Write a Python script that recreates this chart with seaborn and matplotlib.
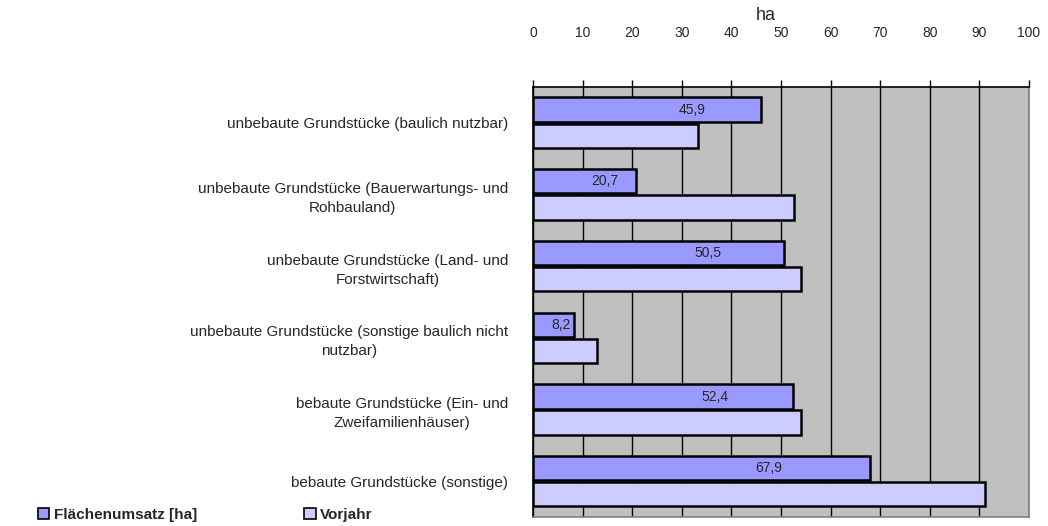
import numpy as np
import pandas as pd
import seaborn as sns
from matplotlib import pyplot as plt
from matplotlib.patches import Patch

# Kategorien (von oben nach unten) und Werte in ha
categories = [
    "unbebaute Grundstücke (baulich nutzbar)",
    "unbebaute Grundstücke (Bauerwartungs- und\nRohbauland)",
    "unbebaute Grundstücke (Land- und\nForstwirtschaft)",
    "unbebaute Grundstücke (sonstige baulich nicht\nnutzbar)",
    "bebaute Grundstücke (Ein- und\nZweifamilienhäuser)",
    "bebaute Grundstücke (sonstige)",
]
flaechenumsatz = [45.9, 20.7, 50.5, 8.2, 52.4, 67.9]
vorjahr = [33.2, 52.6, 54.0, 12.9, 54.1, 91.1]
series_names = ["Flächenumsatz [ha]", "Vorjahr"]
x_ticks = list(range(0, 101, 10))

colors = ["#9999FF", "#CCCCFF"]

df = pd.DataFrame({
    "Kategorie": categories * 2,
    "Serie": [series_names[0]] * len(categories) + [series_names[1]] * len(categories),
    "ha": flaechenumsatz + vorjahr,
})

sns.set_style("white")
plt.rcParams["font.family"] = ["Liberation Sans", "DejaVu Sans"]

fig = plt.figure(figsize=(10.48, 5.26), dpi=100)
ax = fig.add_axes([0.5086, 0.017, 0.4733, 0.818])
ax.set_facecolor("#C0C0C0")

sns.barplot(data=df, y="Kategorie", x="ha", hue="Serie", order=categories,
            hue_order=series_names, palette=colors, saturation=1, width=0.73,
            gap=0.07, edgecolor="black", linewidth=1.8, legend=False, ax=ax,
            zorder=3)

# Beschriftung der Werte (nur erste Serie)
for i, v in enumerate(flaechenumsatz):
    ax.text(v * 0.7, i - 0.18, f"{v:.1f}".replace(".", ","), ha="center",
            va="center", fontsize=10, zorder=4)

ax.set_xlim(0, 100)
ax.set_ylim(len(categories) - 0.5, -0.5)

# x-Achse oben
ax.xaxis.set_ticks_position("top")
ax.xaxis.set_label_position("top")
ax.set_xticks(x_ticks)
ax.set_xticklabels([str(t) for t in x_ticks], fontsize=10)
ax.tick_params(axis="x", direction="out", length=5, width=1, pad=29, color="black")
ax.set_xlabel("ha", fontsize=13, labelpad=4)
ax.xaxis.label.set_x(0.47)
ax.grid(axis="x", color="black", linewidth=1, zorder=1)
ax.set_axisbelow(True)

# y-Achse: Beschriftung in der Mitte, Striche an den Grenzen
ax.set_yticks(range(len(categories)))
ax.set_yticklabels(categories, fontsize=11, multialignment="center", linespacing=1.45)
ax.tick_params(axis="y", which="major", length=0, pad=18)
ax.set_yticks(np.arange(-0.5, len(categories), 1), minor=True)
ax.tick_params(axis="y", which="minor", direction="out", length=5, width=1, color="black")
ax.set_ylabel("")

for side in ["top", "left"]:
    ax.spines[side].set_color("black")
    ax.spines[side].set_linewidth(1.2)
for side in ["right", "bottom"]:
    ax.spines[side].set_color("#808080")
    ax.spines[side].set_linewidth(1.2)

handles = [Patch(facecolor=c, edgecolor="black", linewidth=1.2) for c in colors]
fig.legend(handles, series_names, loc="center left",
           bbox_to_anchor=(38 / 1048, 1 - 515 / 526), ncol=2, frameon=False,
           prop={"weight": "bold", "size": 11}, handlelength=0.75, handleheight=0.75,
           handletextpad=0.3, columnspacing=7, borderaxespad=0, borderpad=0)

fig.savefig("out.png", dpi=100)
